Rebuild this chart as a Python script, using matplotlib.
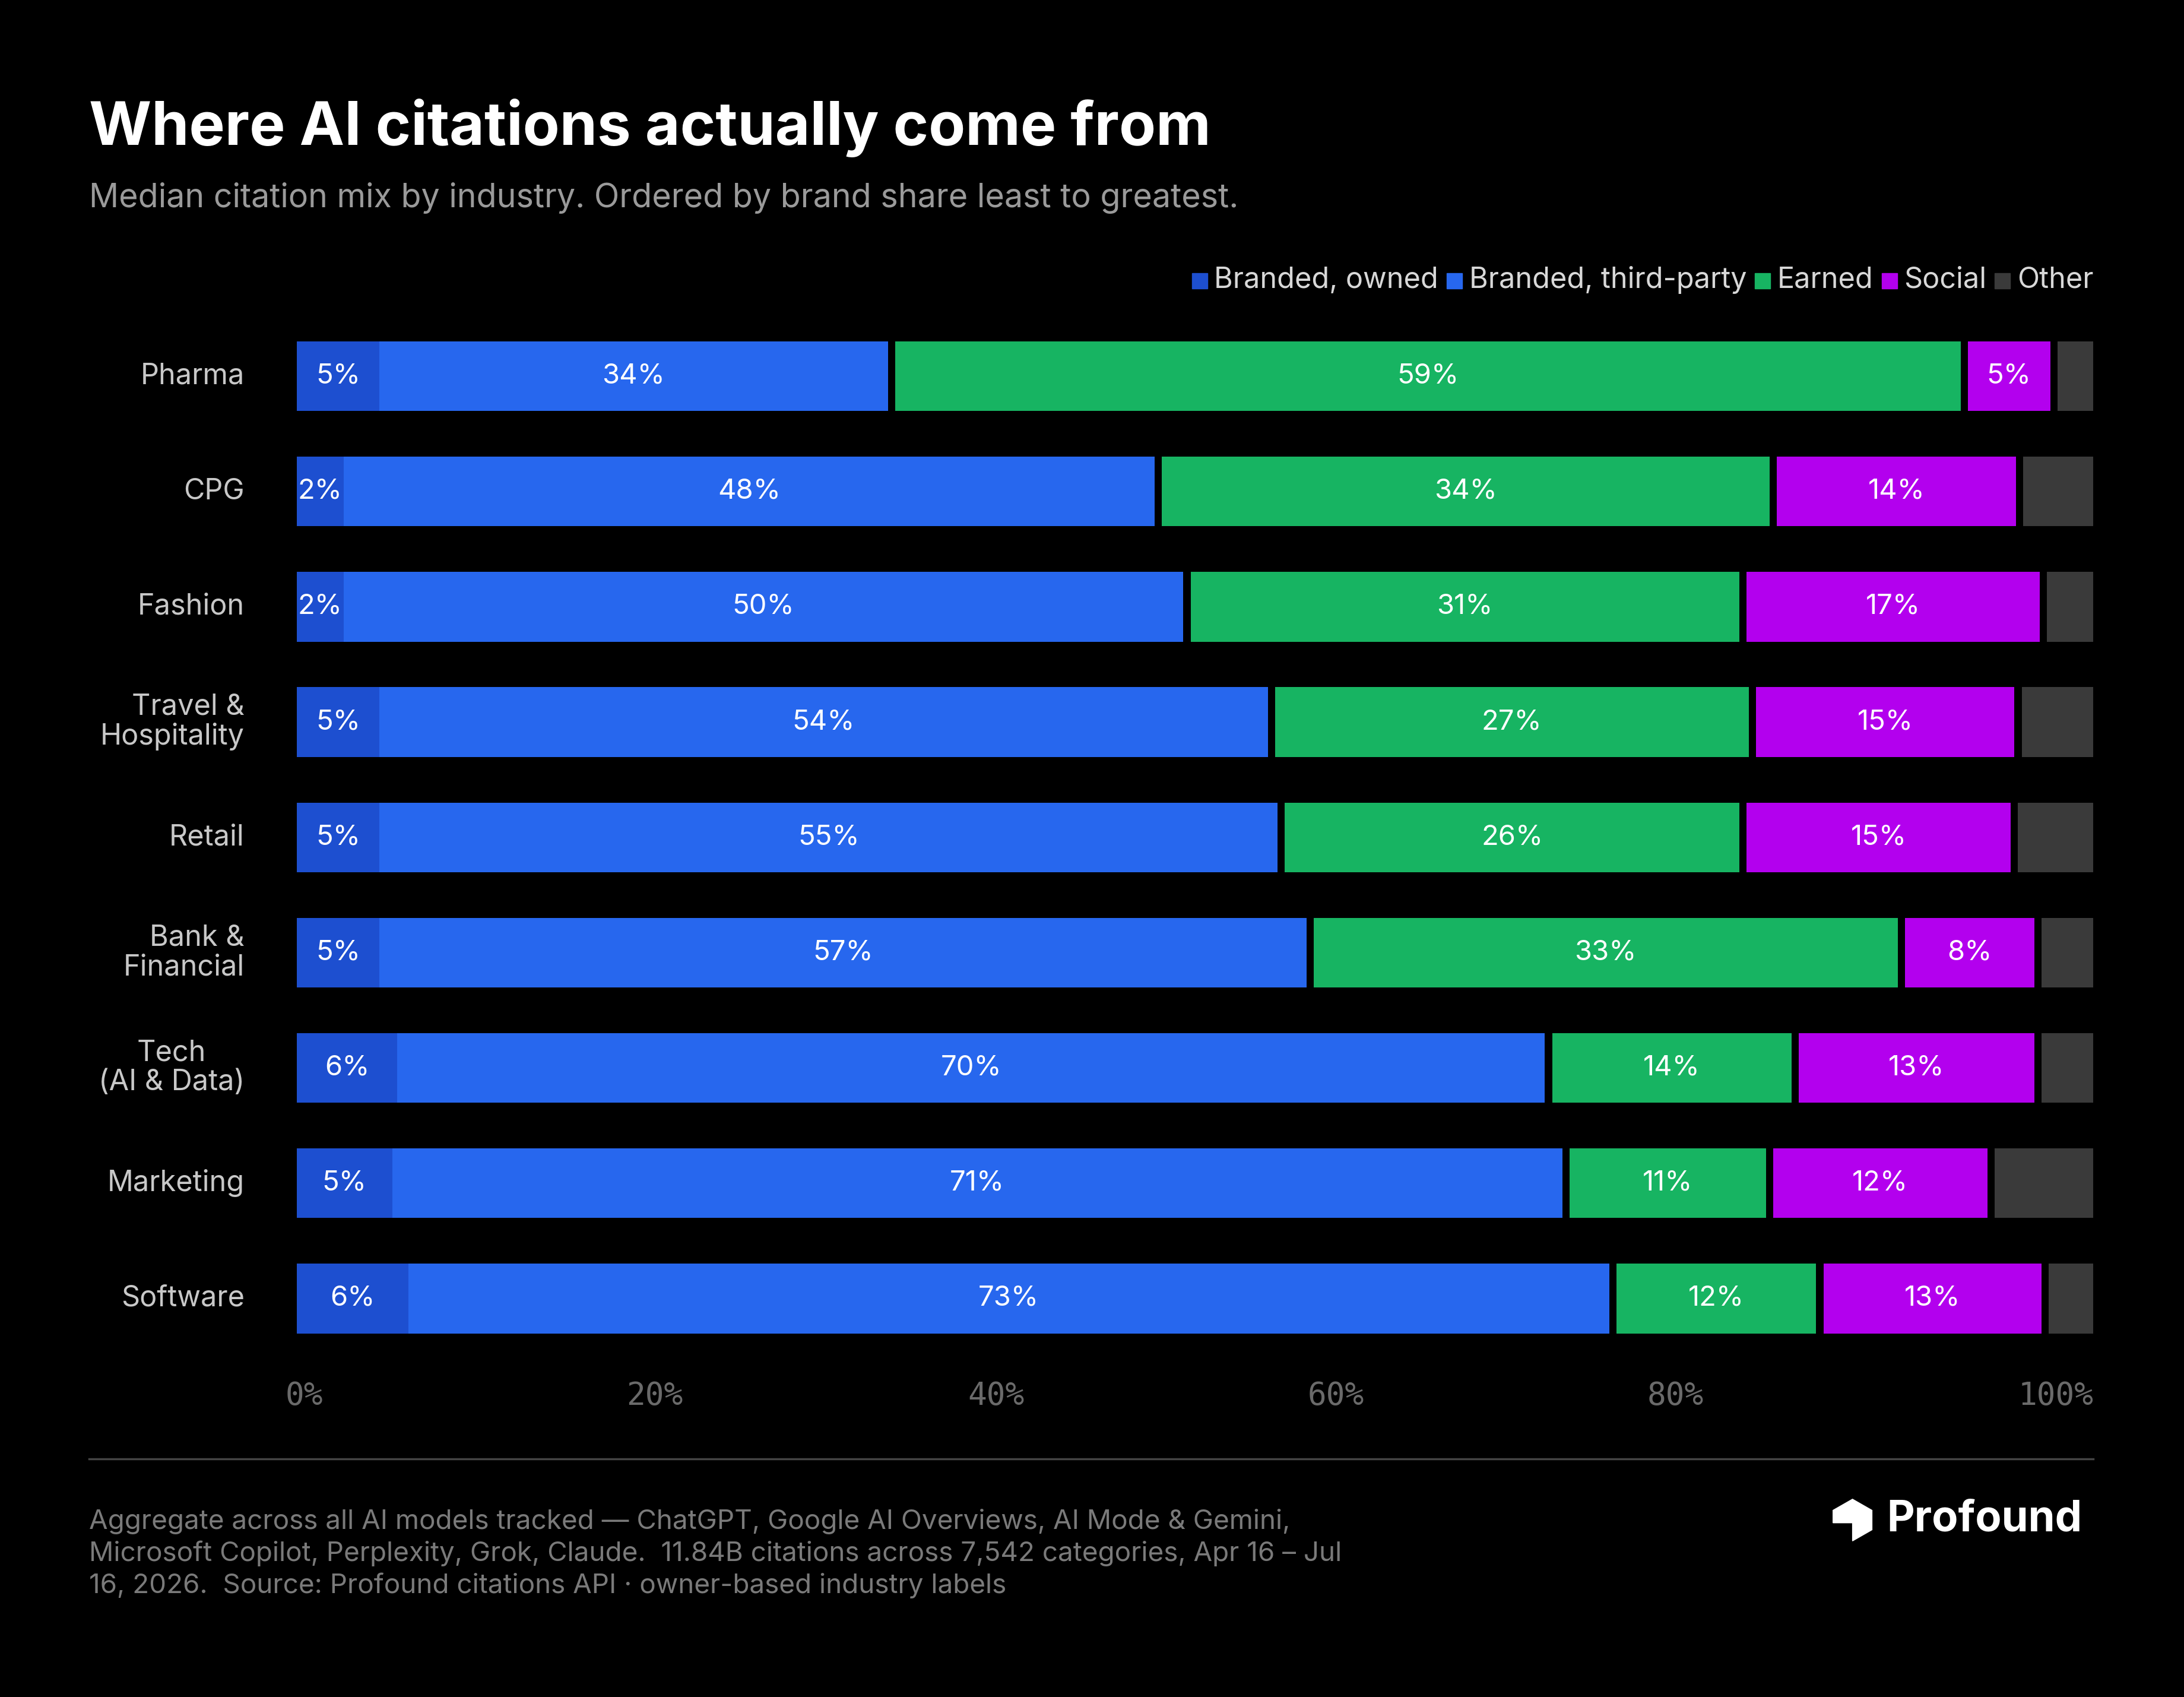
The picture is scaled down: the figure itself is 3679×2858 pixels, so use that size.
import numpy as np
import matplotlib.pyplot as plt
from matplotlib.patches import Polygon, Rectangle

plt.rcParams["font.family"] = ["Inter", "DejaVu Sans"]

industries = ["Pharma", "CPG", "Fashion", "Travel &\nHospitality", "Retail",
              "Bank &\nFinancial", "Tech\n(AI & Data)", "Marketing", "Software"]
series = ["Branded, owned", "Branded, third-party", "Earned", "Social", "Other"]
colors = ["#1d4fd0", "#2767ee", "#17b462", "#b300ee", "#3a3a3a"]

# segment widths as drawn (percent of bar length)
owned = [4.6, 2.6, 2.6, 4.6, 4.6, 4.6, 5.6, 5.3, 6.2]
third = [28.3, 45.1, 46.7, 49.5, 50.0, 51.6, 63.8, 65.0, 66.7]
earned = [59.3, 33.8, 30.5, 26.4, 25.3, 32.5, 13.3, 10.9, 11.1]
social = [4.6, 13.3, 16.3, 14.4, 14.7, 7.2, 13.1, 11.9, 12.1]
other = [2.0, 3.9, 2.6, 4.0, 4.2, 2.9, 2.9, 5.5, 2.5]

# printed labels
lab_owned = [5, 2, 2, 5, 5, 5, 6, 5, 6]
lab_third = [34, 48, 50, 54, 55, 57, 70, 71, 73]
lab_earned = [59, 34, 31, 27, 26, 33, 14, 11, 12]
lab_social = [5, 14, 17, 15, 15, 8, 13, 12, 13]

ticks = [0, 20, 40, 60, 80, 100]
tick_px = [205, 470, 715, 959, 1203, 1503]

W, H = 3679, 2858
fig = plt.figure(figsize=(W / 100, H / 100), dpi=100, facecolor="black")
sx = lambda px: px / 1568
sy = lambda py: 1 - py / 1218

ax = fig.add_axes([sx(213), sy(980), sx(1503) - sx(213), sy(235) - sy(980)])
ax.set_facecolor("black")
ax.set_xlim(0, 100)
ax.set_ylim(8.58, -0.423)
ax.axis("off")

gap = 0.4
widths = [owned, third, earned, social, other]
labels = [lab_owned, lab_third, lab_earned, lab_social, None]
for i in range(len(industries)):
    w = [s[i] for s in widths]
    scale = (100 - 3 * gap) / sum(w)
    left = 0
    for j, c in enumerate(colors):
        wj = w[j] * scale
        ax.barh(i, wj, left=left, height=0.604, color=c)
        if labels[j] is not None:
            ax.text(left + wj / 2, i, f"{labels[j][i]}%", ha="center", va="center",
                    color="white", fontsize=34)
        left += wj + (gap if j > 0 else 0)
    ax.text(-2.9, i, industries[i], ha="right", va="center", color="#c8c8c8",
            fontsize=35, multialignment="right" if "Tech" not in industries[i] else "center",
            linespacing=1.1)

for t, px in zip(ticks, tick_px):
    ha = "left" if t == 0 else ("right" if t == 100 else "center")
    fig.text(sx(px), sy(1002), f"{t}%", ha=ha, va="center",
             color="#6a6a6a", fontsize=38, family="DejaVu Sans Mono")

fig.text(sx(64), sy(92), "Where AI citations actually come from", color="white",
         fontsize=73, fontweight="bold", va="center")
fig.text(sx(64), sy(142), "Median citation mix by industry. Ordered by brand share least to greatest.",
         color="#9a9a9a", fontsize=40, va="center")

# legend
x = 1503
for name, c in reversed(list(zip(series, colors))):
    t = fig.text(sx(x), sy(201), name, ha="right", va="center", color="#d8d8d8", fontsize=35)
    fig.canvas.draw()
    bb = t.get_window_extent()
    left_px = bb.x0 / W * 1568
    fig.patches.append(Rectangle((sx(left_px - 16), sy(207)), sx(11), sy(196) - sy(207),
                                 transform=fig.transFigure, color=c))
    x = left_px - 22

fig.add_artist(plt.Line2D([sx(64), sx(1503)], [sy(1047), sy(1047)], color="#444444",
                          lw=2.5, transform=fig.transFigure))

footer = ("Aggregate across all AI models tracked \u2014 ChatGPT, Google AI Overviews, AI Mode & Gemini,\n"
          "Microsoft Copilot, Perplexity, Grok, Claude.  11.84B citations across 7,542 categories, Apr 16 \u2013 Jul\n"
          "16, 2026.  Source: Profound citations API \u00b7 owner-based industry labels")
fig.text(sx(64), sy(1115), footer, color="#7a7a7a", fontsize=33, va="center", linespacing=1.3)

# logo
pts = [(1316, 1084), (1330, 1076), (1344, 1084), (1344, 1098), (1330, 1106), (1330, 1093), (1316, 1093)]
fig.patches.append(Polygon([(sx(a), sy(b)) for a, b in pts], closed=True,
                           transform=fig.transFigure, color="white"))
fig.text(sx(1495), sy(1091), "Profound", ha="right", va="center", color="white",
         fontsize=52, fontweight="bold")

fig.savefig("out.png", dpi=100, facecolor="black")
